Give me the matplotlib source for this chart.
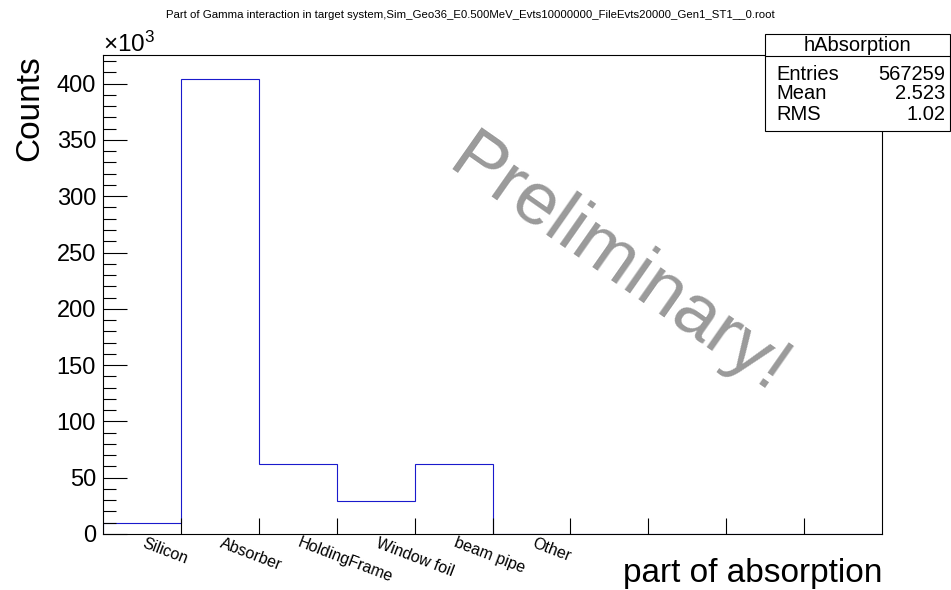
import numpy as np
import matplotlib as mpl
import matplotlib.pyplot as plt
from matplotlib.patches import Rectangle
from matplotlib.lines import Line2D

mpl.rcParams['font.family'] = ['Liberation Sans', 'DejaVu Sans']
mpl.rcParams['mathtext.fontset'] = 'custom'
mpl.rcParams['mathtext.rm'] = 'Liberation Sans'

# histogram content (in units of 10^3 counts)
parts = ["Silicon", "Absorber", "HoldingFrame", "Window foil", "beam pipe", "Other"]
counts = [9.6, 404.4, 62.0, 28.9, 62.6, 0, 0, 0, 0, 0]
stats_names = ["Entries", "Mean", "RMS"]
stats_values = ["567259", "2.523", "1.02"]

W, H = 951, 590
fig = plt.figure(figsize=(W / 100, H / 100), dpi=100)
ax = fig.add_axes([103 / W, 1 - 534 / H, (882 - 103) / W, (534 - 55) / H])

edges = np.arange(len(counts) + 1)
ax.stairs(counts, edges, baseline=0, fill=False, color='#1a1acc', lw=0.8)

ax.set_xlim(0, len(counts))
ax.set_ylim(0, max(counts) * 1.052)

# y axis: majors every 50, minors every 10, ticks inside
ax.set_yticks(np.arange(0, 401, 50))
ax.set_yticks(np.arange(0, 421, 10), minor=True)
ax.tick_params(axis='y', which='major', direction='in', length=17, width=0.8,
               labelsize=17, pad=5)
ax.tick_params(axis='y', which='minor', direction='in', length=9, width=0.8)

# x axis: ticks on bin edges, labels hanging from bin centres
ax.set_xticks(edges[1:-1])
ax.set_xticklabels([])
ax.tick_params(axis='x', which='major', direction='in', length=11.5, width=0.8)
ax.tick_params(axis='x', which='minor', bottom=False)
for i, name in enumerate(parts):
    ax.text(i + 0.48, -0.003, name, transform=ax.get_xaxis_transform(),
            ha='left', va='top', rotation=-21, fontsize=11.5)

for s in ax.spines.values():
    s.set_linewidth(0.8)

# exponent above y axis
fig.text(103 / W, 1 - 52 / H, r'$\mathregular{\times10^{3}}$', ha='left',
         va='baseline', fontsize=17.5)

fig.text(30 / W, 1 - 55 / H, "Counts", rotation=90, ha='center', va='top',
         fontsize=24)
fig.text(882 / W, 1 - 582 / H, "part of absorption", ha='right',
         va='baseline', fontsize=24)

fig.text(470 / W, 1 - 15 / H,
         "Part of Gamma interaction in target system,Sim_Geo36_E0.500MeV_Evts10000000_FileEvts20000_Gen1_ST1__0.root",
         ha='center', va='center', fontsize=8.2)

# watermark
fig.text(619 / W, 1 - 266 / H, "Preliminary!", fontsize=54,
         color='#9a9a9a', rotation=-35, ha='center', va='center')

# stats box
bx0, bx1 = 765 / W, 950 / W
by_top, by_sep, by_bot = 1 - 34 / H, 1 - 56 / H, 1 - 131 / H
fig.add_artist(Rectangle((bx0, by_bot), bx1 - bx0, by_top - by_bot,
                         transform=fig.transFigure, fill=True, facecolor='white',
                         edgecolor='black', lw=0.8))
fig.add_artist(Line2D([bx0, bx1], [by_sep, by_sep], transform=fig.transFigure,
                      color='black', lw=0.8))
fig.text((bx0 + bx1) / 2, 1 - 45.5 / H, "hAbsorption", ha='center',
         va='center', fontsize=14.5)
for k, (n, v) in enumerate(zip(stats_names, stats_values)):
    yy = 1 - (74 + 20 * k) / H
    fig.text(776 / W, yy, n, ha='left', va='center', fontsize=14.5)
    fig.text(945 / W, yy, v, ha='right', va='center', fontsize=14.5)

fig.savefig("out.png", dpi=100)
